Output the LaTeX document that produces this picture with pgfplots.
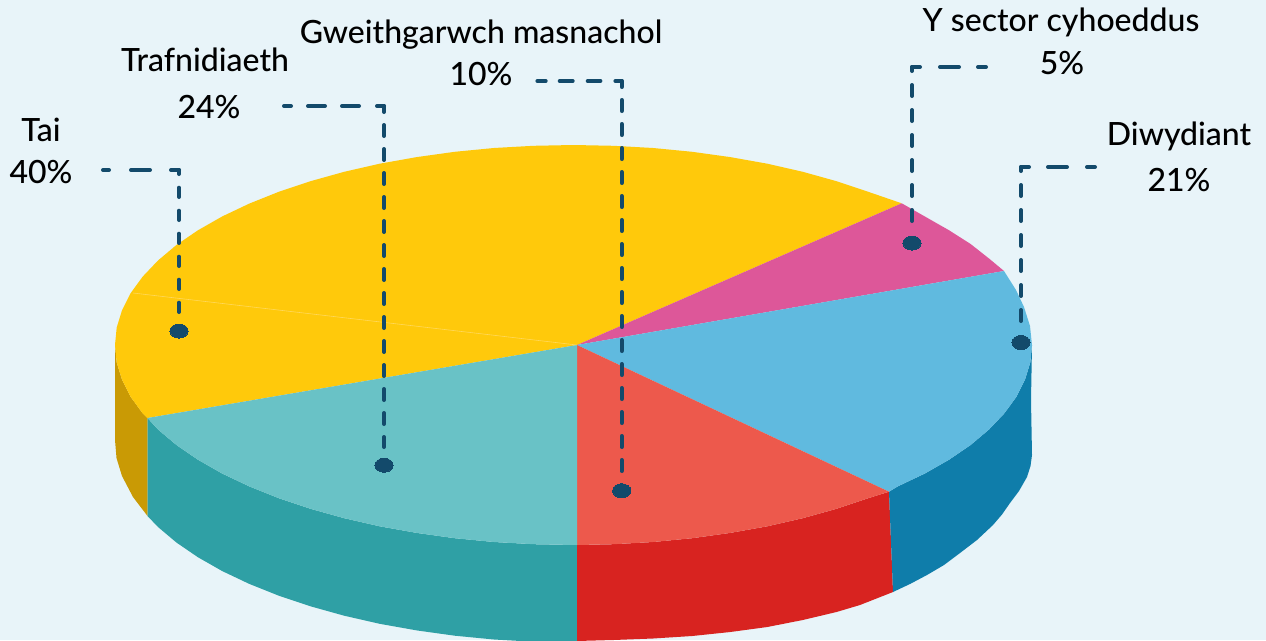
\documentclass[border=0pt]{standalone}
\usepackage{pgfplots}
\pgfplotsset{compat=1.18}
\usepackage{fontspec}
\setmainfont{Lato Medium}
\definecolor{bgc}{HTML}{E8F4F9}
\definecolor{yel}{HTML}{FFC90B}
\definecolor{yels}{HTML}{C99A05}
\definecolor{tea}{HTML}{69C2C6}
\definecolor{teas}{HTML}{2FA0A5}
\definecolor{red1}{HTML}{ED594C}
\definecolor{reds}{HTML}{D82320}
\definecolor{blu}{HTML}{60BADF}
\definecolor{blus}{HTML}{0F7DAA}
\definecolor{pin}{HTML}{DD5799}
\definecolor{nav}{HTML}{134A6B}
\definecolor{fai}{HTML}{FFD85A}
\begin{document}
\begin{tikzpicture}[lab/.style={font=\fontsize{32}{36}\selectfont,text=black,inner sep=0pt,anchor=base}]
\begin{axis}[hide axis,scale only axis,width=1266pt,height=640pt,
  xmin=0,xmax=1266,ymin=0,ymax=640,y dir=reverse,no markers,
  ll/.style={draw=nav,line width=4pt,line cap=round}]
\addplot[fill=bgc,draw=none] coordinates {(0,0)(1266,0)(1266,640)(0,640)} --cycle;
% side walls
\addplot[fill=yels,draw=none] coordinates {(115,345)(116.7,362.4)(122,379.7)(130.6,396.8)(142.7,413.4)(147.5,418)(147.5,516)(133,497)(122,476)(116.5,458)(115,440)} --cycle;
\addplot[fill=teas,draw=none] coordinates {(147.5,418)(158,429.5)(176.4,445)(197.9,459.7)(222.3,473.6)(249.3,486.4)(278.8,498.2)(310.5,508.8)(344.2,518.2)(379.7,526.3)(416.7,532.9)(454.8,538.2)(493.9,542)(533.5,544.2)(577,545)(577,642)(533.5,641.7)(493.9,639.5)(454.8,635.7)(416.7,630.4)(379.7,623.8)(344.2,615.7)(310.5,606.3)(278.8,595.7)(249.3,583.9)(222.3,571.1)(197.9,557.2)(176.4,542.5)(158,527)(147.5,516)} --cycle;
\addplot[fill=reds,draw=none] coordinates {(577,545)(613.5,544.2)(653.1,542)(692.2,538.2)(730.3,532.9)(767.3,526.3)(802.8,518.2)(836.5,508.8)(868.2,498.2)(889,491.7)(893,592)(860,605)(836.5,612)(802.8,620)(767.3,627)(730.3,632)(692.2,636)(653.1,638.5)(613.5,640)(577,641)} --cycle;
\addplot[fill=blus,draw=none] coordinates {(889,491.7)(897.7,486.4)(924.7,473.6)(949.1,459.7)(970.6,445)(989,429.5)(1004.3,413.4)(1016.4,396.8)(1025,379.7)(1030.3,362.4)(1032,345)(1031,400)(1032,455)(1030.5,466)(1027,477)(1019,491)(1010,503)(1002,514.5)(993,525)(977,540)(960,553)(944,565)(927,575)(910,584)(893,592)} --cycle;
% top slices
\addplot[fill=yel,draw=none] coordinates {(577,345)(147.5,418)(142.7,413.4)(130.6,396.8)(122,379.7)(116.7,362.4)(115,345)(116.7,327.6)(122,310.3)(130.6,293.2)(142.7,276.6)(158,260.5)(176.4,245)(197.9,230.3)(222.3,216.4)(249.3,203.6)(278.8,191.8)(310.5,181.2)(344.2,171.8)(379.7,163.7)(416.7,157.1)(454.8,151.8)(493.9,148)(533.5,145.8)(573.5,145)(613.5,145.8)(653.1,148)(692.2,151.8)(730.3,157.1)(767.3,163.7)(802.8,171.8)(836.5,181.2)(868.2,191.8)(901.7,203.3)} --cycle;
\addplot[fill=pin,draw=none] coordinates {(577,345)(901.7,203.3)(924.7,216.4)(949.1,230.3)(970.6,244)(989,258.5)(1004,271)} --cycle;
\addplot[fill=blu,draw=none] coordinates {(577,345)(1004,271)(1016,290)(1024,307)(1030,326)(1032,345)(1030.3,362.4)(1025,379.7)(1016.4,396.8)(1004.3,413.4)(989,429.5)(970.6,445)(949.1,459.7)(924.7,473.6)(897.7,486.4)(889,491.7)} --cycle;
\addplot[fill=red1,draw=none] coordinates {(577,345)(889,491.7)(868.2,498.2)(836.5,508.8)(802.8,518.2)(767.3,526.3)(730.3,532.9)(692.2,538.2)(653.1,542)(613.5,544.2)(577,545)} --cycle;
\addplot[fill=tea,draw=none] coordinates {(577,345)(577,545)(533.5,544.2)(493.9,542)(454.8,538.2)(416.7,532.9)(379.7,526.3)(344.2,518.2)(310.5,508.8)(278.8,498.2)(249.3,486.4)(222.3,473.6)(197.9,459.7)(176.4,445)(158,429.5)(147.5,418)} --cycle;
\addplot[draw=fai,line width=0.6pt] coordinates {(133,293)(577,345)};
% leader lines: horizontal parts, drawn from the corner outwards
\addplot[ll,dash pattern=on 8pt off 21pt on 19pt off 22pt on 8pt off 40pt] coordinates {(179,170)(103,170)};
\addplot[ll,dash pattern=on 7pt off 18pt on 17pt off 17pt on 17pt off 17pt on 7.3pt off 50pt] coordinates {(384,106)(284,106)};
\addplot[ll,dash pattern=on 6.3pt off 15pt on 12.7pt off 15pt on 13pt off 14pt on 8.3pt off 50pt] coordinates {(621.7,81)(537,81)};
\addplot[ll,dash pattern=on 8pt off 20pt on 19pt off 19pt on 8pt off 50pt] coordinates {(912,67)(986,67)};
\addplot[ll,dash pattern=on 8pt off 19pt on 19pt off 20pt on 8pt off 50pt] coordinates {(1021,167)(1095,167)};
% leader lines: vertical parts
\addplot[ll,dash pattern=on 9.3pt off 13.7pt,dash phase=5.3pt] coordinates {(179,170)(179,313)};
\addplot[ll,dash pattern=on 11pt off 13pt,dash phase=5pt] coordinates {(384,106)(384,447)};
\addplot[ll,dash pattern=on 11pt off 13pt,dash phase=5pt] coordinates {(621.7,81)(621.7,472.3)};
\addplot[ll,dash pattern=on 11pt off 14pt,dash phase=7pt] coordinates {(912,67)(912,225)};
\addplot[ll,dash pattern=on 11pt off 14pt,dash phase=7pt] coordinates {(1021,167)(1021,323)};
% dots
\addplot[only marks,mark=*,mark size=7pt,mark options={xscale=1.3,draw=nav,fill=nav,line width=0pt}] coordinates {(179,331)(384,465.3)(621.7,490.7)(912,243)(1021,342.5)};
% labels
\node[lab] at (axis cs:41,141) {Tai};
\node[lab] at (axis cs:41,183) {40\%};
\node[lab] at (axis cs:205,71) {Trafnidiaeth};
\node[lab] at (axis cs:209,118) {24\%};
\node[lab] at (axis cs:481,43) {Gweithgarwch masnachol};
\node[lab] at (axis cs:481,85) {10\%};
\node[lab] at (axis cs:1061,31) {Y sector cyhoeddus};
\node[lab] at (axis cs:1062,74) {5\%};
\node[lab] at (axis cs:1179,145) {Diwydiant};
\node[lab] at (axis cs:1179,191) {21\%};
\end{axis}
\end{tikzpicture}
\end{document}
